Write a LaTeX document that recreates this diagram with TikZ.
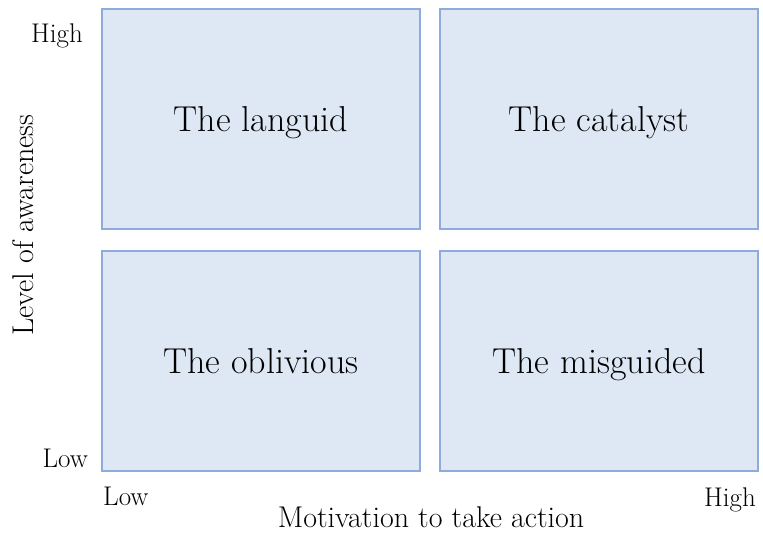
\documentclass[tikz,border=0pt]{standalone}
\usepackage{fontspec}
\definecolor{cellfill}{HTML}{DEE8F5}
\definecolor{cellline}{HTML}{8FAADC}
\begin{document}
\begin{tikzpicture}[x=1pt,y=-1pt,
  cell/.style={draw=cellline,line width=2pt,fill=cellfill,minimum width=318pt,minimum height=220pt,inner sep=0pt,text height=27pt,text depth=2pt,font=\fontsize{36}{40}\selectfont},
  tick/.style={font=\fontsize{27}{30}\selectfont,inner sep=0pt},
  axis/.style={font=\fontsize{30}{34}\selectfont,inner sep=0pt}]
\useasboundingbox (0,0) rectangle (763,535);
% Four quadrants
\node[cell] (tl) at (261,119) {The languid};
\node[cell] (tr) at (599,119) {The catalyst};
\node[cell] (bl) at (261,360.5) {The oblivious};
\node[cell] (br) at (599,360.5) {The misguided};
% Axis ends
\node[tick,anchor=base east] (yhigh) at (83,43) {High};
\node[tick,anchor=base east] (ylow) at (88,467) {Low};
\node[tick,anchor=base west] (xlow) at (103,505) {Low};
\node[tick,anchor=base east] (xhigh) at (756,506) {High};
% Axis titles
\node[axis,anchor=base] (xlab) at (431,527) {Motivation to take action};
\node[axis,rotate=90,anchor=base] (ylab) at (33,225) {Level of awareness};
\end{tikzpicture}
\end{document}
